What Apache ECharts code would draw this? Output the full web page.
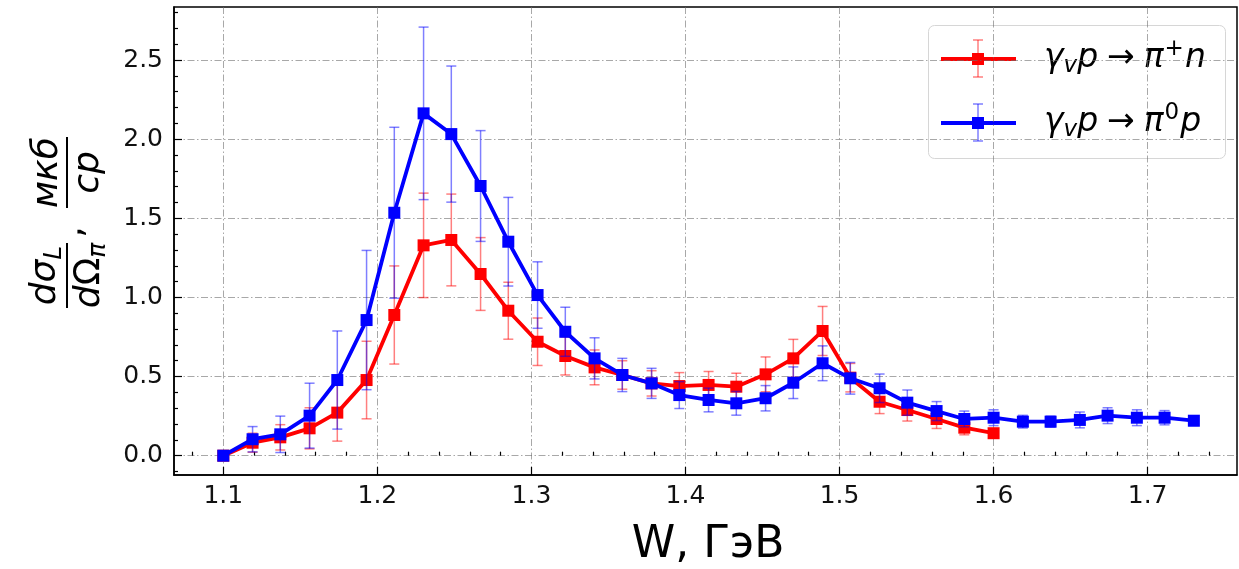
<!DOCTYPE html>
<html>
<head>
<meta charset="utf-8">
<script src="https://cdn.jsdelivr.net/npm/echarts@6/dist/echarts.min.js"></script>
<style>
  html, body { margin: 0; padding: 0; background: #fff; }
  #chart { width: 1239px; height: 569px; }
</style>
</head>
<body>
<div id="chart"></div>
<script>
// Invariant mass W (GeV) of the measured bins
const W = [1.100, 1.119, 1.137, 1.156, 1.174, 1.193, 1.211, 1.230, 1.248, 1.267,
           1.285, 1.304, 1.322, 1.341, 1.359, 1.378, 1.396, 1.415, 1.433, 1.452,
           1.470, 1.489, 1.507, 1.526, 1.544, 1.563, 1.581, 1.600, 1.619, 1.637,
           1.656, 1.674, 1.693, 1.711, 1.730];

// gamma_v p -> pi+ n, longitudinal cross section (mkb/sr) and its uncertainty
const piPlusN = [0.000, 0.082, 0.116, 0.173, 0.272, 0.478, 0.889, 1.329, 1.363, 1.148,
                 0.916, 0.720, 0.630, 0.558, 0.510, 0.457, 0.440, 0.447, 0.436, 0.514,
                 0.615, 0.788, 0.493, 0.341, 0.289, 0.232, 0.177, 0.142];
const piPlusNErr = [0.000, 0.060, 0.080, 0.130, 0.180, 0.245, 0.310, 0.330, 0.290, 0.230,
                    0.180, 0.150, 0.120, 0.110, 0.090, 0.080, 0.085, 0.085, 0.085, 0.110,
                    0.120, 0.155, 0.090, 0.075, 0.070, 0.060, 0.045, 0.020];

// gamma_v p -> pi0 p, longitudinal cross section (mkb/sr) and its uncertainty
const piZeroP = [0.000, 0.104, 0.135, 0.253, 0.478, 0.857, 1.535, 2.163, 2.032, 1.704,
                 1.352, 1.015, 0.783, 0.615, 0.510, 0.457, 0.383, 0.352, 0.331, 0.363,
                 0.461, 0.584, 0.489, 0.426, 0.335, 0.282, 0.232, 0.240, 0.215, 0.215,
                 0.226, 0.253, 0.240, 0.240, 0.221];
const piZeroPErr = [0.000, 0.080, 0.115, 0.205, 0.310, 0.440, 0.540, 0.545, 0.430, 0.350,
                    0.280, 0.210, 0.155, 0.130, 0.105, 0.095, 0.085, 0.075, 0.075, 0.080,
                    0.100, 0.110, 0.100, 0.090, 0.080, 0.060, 0.050, 0.050, 0.040, 0.035,
                    0.050, 0.050, 0.050, 0.045, 0.030];

// Tick labels
const xTickLabels = ['1.1', '1.2', '1.3', '1.4', '1.5', '1.6', '1.7'];
const yTickLabels = ['0.0', '0.5', '1.0', '1.5', '2.0', '2.5'];

const RED = '#ff0000';
const BLUE = '#0000ff';
const RED_ERR = 'rgba(255,0,0,0.5)';
const BLUE_ERR = 'rgba(0,0,255,0.5)';
const FONT = '"DejaVu Sans", "Liberation Sans", sans-serif';

const xMajor = xTickLabels.map(Number);
const yMajor = yTickLabels.map(Number);
// minor ticks: x every 0.02, y every 0.1
const xMinor = [];
for (let i = 54; i <= 87; i++) { const v = +(i * 0.02).toFixed(2); if (i % 5 !== 0) xMinor.push(v); }
const yMinor = [];
for (let i = -1; i <= 28; i++) { const v = +(i * 0.1).toFixed(1); if (i % 5 !== 0) yMinor.push(v); }

const X_MIN = 1.068, X_MAX = 1.758, Y_MIN = -0.122, Y_MAX = 2.835;

// ---- text helpers: mathematical-looking runs made of several text pieces ----
const mctx = document.createElement('canvas').getContext('2d');
function fontStr(p) { return (p.it ? 'italic ' : '') + p.s + 'px ' + FONT; }
function textWidth(t, font) { mctx.font = font; mctx.textBaseline = 'alphabetic'; return mctx.measureText(t).width; }
function baselineOffset(font) {
  mctx.font = font;
  mctx.textBaseline = 'middle';
  const a = mctx.measureText('H').actualBoundingBoxDescent;
  mctx.textBaseline = 'alphabetic';
  const b = mctx.measureText('H').actualBoundingBoxDescent;
  return a - b;
}
function mathRun(pieces, x, baseline, align, color) {
  let total = 0;
  pieces.forEach(p => { p.w = textWidth(p.t, fontStr(p)); total += (p.gl || 0) + p.w + (p.gr || 0); });
  let cx = align === 'center' ? x - total / 2 : (align === 'right' ? x - total : x);
  const out = [];
  pieces.forEach(p => {
    cx += p.gl || 0;
    const f = fontStr(p);
    out.push({
      type: 'text', silent: true,
      style: { text: p.t, x: cx, y: baseline + (p.dy || 0) - baselineOffset(f), font: f,
               fill: color || '#000', align: 'left', verticalAlign: 'middle' }
    });
    cx += p.w + (p.gr || 0);
  });
  return out;
}

// ---- error bars drawn through the axes' own scales ----
function errorBars(name, xs, ys, es, color, z) {
  return {
    type: 'custom', name: name, xAxisIndex: 0, yAxisIndex: 0, z: z, silent: true,
    data: ys.map((y, i) => [xs[i], y, es[i]]),
    encode: { x: 0, y: 1 },
    renderItem: function (params, api) {
      const x = api.value(0), y = api.value(1), e = api.value(2);
      if (!e) return { type: 'group', children: [] };
      const hi = api.coord([x, y + e]);
      const lo = api.coord([x, y - e]);
      const st = { stroke: color, lineWidth: 1.5 };
      const cap = 5;
      return {
        type: 'group', children: [
          { type: 'line', shape: { x1: hi[0], y1: hi[1], x2: lo[0], y2: lo[1] }, style: st },
          { type: 'line', shape: { x1: hi[0] - cap, y1: hi[1], x2: hi[0] + cap, y2: hi[1] }, style: st },
          { type: 'line', shape: { x1: lo[0] - cap, y1: lo[1], x2: lo[0] + cap, y2: lo[1] }, style: st }
        ]
      };
    }
  };
}

function lineSeries(name, xs, ys, color, z) {
  return {
    type: 'line', name: name, xAxisIndex: 0, yAxisIndex: 0, z: z,
    data: ys.map((y, i) => [xs[i], y]),
    symbol: 'rect', symbolSize: 12, showSymbol: true,
    itemStyle: { color: color },
    lineStyle: { color: color, width: 3.8 },
    clip: false
  };
}

const gridLine = { show: true, lineStyle: { color: 'rgba(110,110,110,0.6)', width: 1, type: [7, 2.5, 1.5, 2.5] } };
const tickLine = { color: '#000', width: 1.2 };

// ---- legend box ----
function legendRow(y, color, errColor, pieces) {
  const els = [
    { type: 'line', silent: true, shape: { x1: 941, y1: y, x2: 1016, y2: y }, style: { stroke: color, lineWidth: 3.8 } },
    { type: 'line', silent: true, shape: { x1: 978, y1: y - 19, x2: 978, y2: y + 18 }, style: { stroke: errColor, lineWidth: 1.5 } },
    { type: 'line', silent: true, shape: { x1: 973, y1: y - 19, x2: 983, y2: y - 19 }, style: { stroke: errColor, lineWidth: 1.5 } },
    { type: 'line', silent: true, shape: { x1: 973, y1: y + 18, x2: 983, y2: y + 18 }, style: { stroke: errColor, lineWidth: 1.5 } },
    { type: 'rect', silent: true, shape: { x: 972, y: y - 6, width: 12, height: 12 }, style: { fill: color } }
  ];
  return els.concat(mathRun(pieces, 1044, y + 8, 'left'));
}
const S = 33, s = 23;
const legendEls = [
  { type: 'rect', silent: true, shape: { x: 928.5, y: 25.5, width: 297, height: 133, r: 6 },
    style: { fill: 'rgba(255,255,255,0.85)', stroke: '#d6d6d6', lineWidth: 1 } }
].concat(
  legendRow(59, RED, RED_ERR, [
    { t: 'γ', s: S, it: 1 }, { t: 'v', s: s, it: 1, dy: 5 }, { t: 'p', s: S, it: 1 },
    { t: '→', s: S, gl: 9, gr: 9 }, { t: 'π', s: S, it: 1 }, { t: '+', s: s, dy: -12, gl: 1, gr: 1 }, { t: 'n', s: S, it: 1 }
  ]),
  legendRow(123, BLUE, BLUE_ERR, [
    { t: 'γ', s: S, it: 1 }, { t: 'v', s: s, it: 1, dy: 5 }, { t: 'p', s: S, it: 1 },
    { t: '→', s: S, gl: 9, gr: 9 }, { t: 'π', s: S, it: 1 }, { t: '0', s: s, dy: -12, gl: 1, gr: 1 }, { t: 'p', s: S, it: 1 }
  ])
);

// ---- y-axis title: d sigma_L / d Omega_pi , mkb / sr (drawn rotated) ----
const Y = 36, y2 = 25;
const yTitleChildren = [].concat(
  mathRun([{ t: 'dσ', s: Y, it: 1 }, { t: 'L', s: y2, it: 1, dy: 6 }], -52.5, -12, 'center'),
  [{ type: 'line', silent: true, shape: { x1: -85, y1: 0, x2: -20, y2: 0 }, style: { stroke: '#000', lineWidth: 2 } }],
  mathRun([{ t: 'd', s: Y, it: 1 }, { t: 'Ω', s: Y }, { t: 'π', s: y2, it: 1, dy: 6 }], -52.5, 32, 'center'),
  mathRun([{ t: ',', s: Y }], -9, 15, 'center'),
  mathRun([{ t: 'мкб', s: Y, it: 1 }], 50.5, -10, 'center'),
  [{ type: 'line', silent: true, shape: { x1: 15, y1: 0, x2: 86, y2: 0 }, style: { stroke: '#000', lineWidth: 2 } }],
  mathRun([{ t: 'ср', s: Y, it: 1 }], 50.5, 31, 'center')
);

const xTitle = mathRun([{ t: 'W, ГэВ', s: 44 }], 708, 557, 'center');

const chart = echarts.init(document.getElementById('chart'), null, { renderer: 'canvas' });
chart.setOption({
  animation: false,
  backgroundColor: '#fff',
  grid: { left: 174, top: 7, right: 2, bottom: 94, show: true, borderColor: '#000', borderWidth: 1.5, backgroundColor: 'transparent' },
  xAxis: [
    {
      type: 'value', min: X_MIN, max: X_MAX, position: 'bottom',
      axisLine: { show: true, onZero: false, lineStyle: { color: '#000', width: 1.5 } },
      axisTick: { show: true, inside: true, length: 8, customValues: xMajor, lineStyle: tickLine },
      axisLabel: { show: true, customValues: xMajor, margin: 9, fontSize: 25, fontFamily: FONT, color: '#111',
                   formatter: v => xTickLabels[xMajor.indexOf(+v.toFixed(2))] || '' },
      splitLine: gridLine
    },
    {
      type: 'value', min: X_MIN, max: X_MAX, position: 'bottom',
      axisLine: { show: false },
      axisTick: { show: true, inside: true, length: 4, customValues: xMinor, lineStyle: tickLine },
      axisLabel: { show: false },
      splitLine: { show: false }
    }
  ],
  yAxis: [
    {
      type: 'value', min: Y_MIN, max: Y_MAX, position: 'left',
      axisLine: { show: true, onZero: false, lineStyle: { color: '#000', width: 1.5 } },
      axisTick: { show: true, inside: true, length: 8, customValues: yMajor, lineStyle: tickLine },
      axisLabel: { show: true, customValues: yMajor, margin: 11, fontSize: 25, fontFamily: FONT, color: '#111',
                   formatter: v => yTickLabels[yMajor.indexOf(+v.toFixed(2))] || '' },
      splitLine: gridLine
    },
    {
      type: 'value', min: Y_MIN, max: Y_MAX, position: 'left',
      axisLine: { show: false },
      axisTick: { show: true, inside: true, length: 4, customValues: yMinor, lineStyle: tickLine },
      axisLabel: { show: false },
      splitLine: { show: false }
    }
  ],
  series: [
    errorBars('γv p → π+ n err', W, piPlusN, piPlusNErr, RED_ERR, 2),
    lineSeries('γv p → π+ n', W, piPlusN, RED, 3),
    errorBars('γv p → π0 p err', W, piZeroP, piZeroPErr, BLUE_ERR, 4),
    lineSeries('γv p → π0 p', W, piZeroP, BLUE, 5)
  ],
  graphic: [
    { type: 'group', x: 67, y: 223, rotation: Math.PI / 2, children: yTitleChildren },
    { type: 'group', children: xTitle },
    { type: 'group', z: 100, children: legendEls }
  ]
});
</script>
</body>
</html>
